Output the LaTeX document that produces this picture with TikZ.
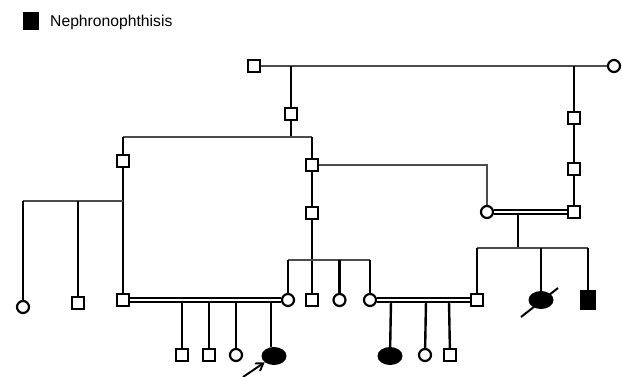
\documentclass[tikz,border=0pt]{standalone}
\usepackage{fontspec}
\setmainfont{Liberation Sans}
\usetikzlibrary{shapes.geometric,arrows.meta}
\begin{document}
\begin{tikzpicture}[x=1pt,y=-1pt,
 sq/.style={draw,line width=2.3pt,rectangle,minimum size=11.5pt,inner sep=0pt,fill=white},
 ci/.style={draw,line width=2.2pt,circle,minimum size=12pt,inner sep=0pt,fill=white},
 fe/.style={fill=black,ellipse,minimum width=25pt,minimum height=18pt,inner sep=0pt},
 fsq/.style={fill=black,rectangle,minimum width=16pt,minimum height=20pt,inner sep=0pt},
 vl/.style={line width=2.4pt,black},
 hl/.style={line width=1.6pt,black!70},
 mar/.style={line width=1.9pt,double=white,double distance=1.7pt}]
\useasboundingbox (0,0) rectangle (622,376);

% legend
\node[fsq,minimum width=16pt,minimum height=18pt] (leg) at (31,21) {};
\node[anchor=base west,inner sep=0pt,font=\fontsize{15.7}{19}\selectfont] (legt) at (50,26) {Nephronophthisis};

% generation I
\node[sq] (G1) at (254,66) {};
\node[ci] (G1w) at (614,66) {};
% generation II
\node[sq] (A1) at (291,114) {};
\node[sq] (R1) at (574,118) {};
% generation III
\node[sq] (B1) at (123,161) {};
\node[sq] (B2) at (312,165) {};
\node[sq] (R2) at (574,169) {};
% generation IV
\node[sq] (E1) at (312,213) {};
\node[ci] (C1) at (487,212) {};
\node[sq] (R3) at (574,212) {};
% generation V
\node[ci] (H1) at (23,307) {};
\node[sq] (H2) at (78,303) {};
\node[sq] (H3) at (123,300) {};
\node[ci] (F1) at (288,300) {};
\node[sq] (E2) at (312,300) {};
\node[ci] (F2) at (339.5,300) {};
\node[ci] (F3) at (370,300) {};
\node[sq] (D1) at (477,300) {};
\node[fe] (D2) at (541,300) {};
\node[fsq] (D3) at (588,300) {};
% generation VI
\node[sq] (J1) at (182,355) {};
\node[sq] (J2) at (209,355) {};
\node[ci] (J3) at (236,355) {};
\node[fe] (J4) at (274,356) {};
\node[fe] (K1) at (390,356) {};
\node[ci] (K2) at (425,355) {};
\node[sq] (K3) at (450,355) {};

% coordinates
\coordinate (t1) at (291,66);
\coordinate (t2) at (574,66);
\coordinate (s1l) at (123,137);
\coordinate (s1m) at (291,137);
\coordinate (s1r) at (312,137);
\coordinate (s4l) at (23,201);
\coordinate (s4m) at (78,201);
\coordinate (s4r) at (123,201);
\coordinate (s2l) at (288,260);
\coordinate (s2m) at (339.5,260);
\coordinate (s2r) at (370,260);
\coordinate (m1) at (518,213);
\coordinate (s3m) at (518,248);
\coordinate (s3l) at (477,248);
\coordinate (s3d) at (541,248);
\coordinate (s3r) at (588,248);
\coordinate (ma) at (182,302);
\coordinate (mb) at (209,302);
\coordinate (mc) at (236,302);
\coordinate (md) at (271,302);
\coordinate (me) at (391,301.5);
\coordinate (mf) at (426,301.5);
\coordinate (mg) at (449,301.5);
\coordinate (arr) at (243,377);
\coordinate (sla) at (521,317);
\coordinate (slb) at (558,288);

% top marriage and descents
\draw[hl] (G1) -- (G1w);
\draw[vl] (t1) -- (A1);
\draw[vl] (A1) -- (s1m);
\draw[hl] (s1l) -- (s1r);
\draw[vl] (s1l) -- (B1);
\draw[vl] (s1r) -- (B2);
\draw[vl] (t2) -- (R1);
\draw[vl] (R1) -- (R2);
\draw[vl] (R2) -- (R3);

% left branch
\draw[vl] (B1) -- (H3);
\draw[hl] (s4l) -- (s4r);
\draw[vl] (s4l) -- (H1);
\draw[vl] (s4m) -- (H2);

% middle branch
\draw[vl] (B2) -- (E1);
\draw[vl] (E1) -- (E2);
\draw[hl] (s2l) -- (s2r);
\draw[vl] (s2l) -- (F1);
\draw[vl] (s2m) -- (F2);
\draw[vl] (s2r) -- (F3);
\draw[hl] (B2) -| (C1);

% right marriage
\draw[vl] (m1) -- (s3m);
\draw[hl] (s3l) -- (s3r);
\draw[vl] (s3l) -- (D1);
\draw[vl] (s3d) -- (D2);
\draw[vl] (s3r) -- (D3);
\draw[mar] (C1) -- (R3);

% lower marriages
\draw[vl] (ma) -- (J1);
\draw[vl] (mb) -- (J2);
\draw[vl] (mc) -- (J3);
\draw[vl] (md) -- (md |- J4.north);
\draw[mar] (H3) -- (F1);
\draw[vl] (me) -- (K1);
\draw[vl] (mf) -- (K2);
\draw[vl] (mg) -- (K3);
\draw[mar] (F3) -- (D1);

% deceased slash and proband arrow
\draw[line width=2pt] (sla) -- (slb);
\draw[line width=1.9pt,-{Straight Barb[length=7pt,width=9pt,line width=1.9pt]}] (arr) -- (J4);
\end{tikzpicture}
\end{document}
